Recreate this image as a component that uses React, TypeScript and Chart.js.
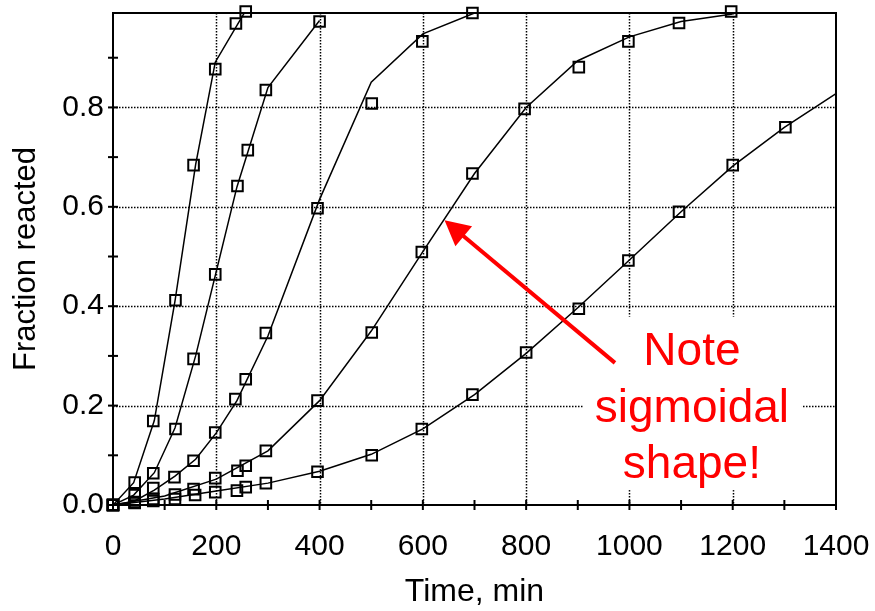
import React, { useEffect, useRef } from 'react';
import { Chart, registerables } from 'chart.js';

Chart.register(...registerables);

// ---------- measured data (markers) ----------
const s1Time = [0, 42, 78, 121, 156, 198, 238, 257];
const s1Frac = [0, 0.045, 0.169, 0.412, 0.684, 0.877, 0.969, 0.993];
const s2Time = [0, 42, 78, 121, 156, 198, 241, 261, 296, 400];
const s2Frac = [0, 0.02, 0.064, 0.153, 0.294, 0.464, 0.642, 0.714, 0.835, 0.973];
const s3Time = [0, 42, 78, 119, 156, 198, 237, 257, 296, 396, 501, 599, 696];
const s3Frac = [0, 0.006, 0.034, 0.056, 0.089, 0.146, 0.213, 0.253, 0.346, 0.597, 0.808, 0.933, 0.99];
const s4Time = [0, 42, 78, 120, 156, 198, 241, 257, 296, 396, 501, 598, 696, 797, 902, 998, 1096, 1197];
const s4Frac = [0, 0.005, 0.012, 0.021, 0.032, 0.054, 0.069, 0.079, 0.109, 0.21, 0.347, 0.509, 0.667, 0.797, 0.881, 0.933, 0.97, 0.993];
const s5Time = [0, 42, 78, 120, 159, 198, 240, 257, 296, 396, 501, 598, 696, 800, 902, 998, 1096, 1200, 1302];
const s5Frac = [0, 0.004, 0.008, 0.012, 0.02, 0.026, 0.029, 0.036, 0.044, 0.067, 0.1, 0.153, 0.222, 0.307, 0.395, 0.492, 0.59, 0.684, 0.76];

// ---------- fitted model curves (lines) ----------
const f1Time = [0, 40, 80, 120, 160, 198, 257];
const f1Frac = [0, 0.045, 0.17, 0.41, 0.685, 0.891, 0.995];
const f2Time = [0, 40, 80, 120, 160, 200, 240, 300, 400];
const f2Frac = [0, 0.02, 0.065, 0.155, 0.3, 0.47, 0.64, 0.84, 0.975];
const f3Time = [0, 40, 80, 120, 160, 200, 240, 300, 400, 500, 600, 700];
const f3Frac = [0, 0.007, 0.03, 0.058, 0.092, 0.145, 0.21, 0.34, 0.615, 0.851, 0.948, 0.99];
const f4Time = [0, 100, 200, 300, 400, 500, 600, 700, 800, 900, 1000, 1100, 1200];
const f4Frac = [0, 0.018, 0.052, 0.109, 0.21, 0.35, 0.51, 0.667, 0.8, 0.894, 0.942, 0.973, 0.988];
const f5Time = [0, 100, 200, 300, 400, 500, 600, 700, 800, 900, 1000, 1100, 1200, 1300, 1400];
const f5Frac = [0, 0.012, 0.028, 0.044, 0.068, 0.102, 0.153, 0.222, 0.305, 0.397, 0.493, 0.59, 0.682, 0.76, 0.828];

// ---------- axes ----------
const xMin = 0;
const xMax = 1400;
const yMin = 0;
const yMax = 0.99;
const xTickStep = 100;
const yTickStep = 0.1;
const xLabelStep = 200;
const xGridValues = [200, 400, 600, 800, 1000, 1200];
const yGridValues = [0.2, 0.4, 0.6, 0.8];
const yLabelValues = [0, 0.2, 0.4, 0.6, 0.8];
const xTitle = 'Time, min';
const yTitle = 'Fraction reacted';

// ---------- annotation ----------
const noteLines = ['Note', 'sigmoidal', 'shape!'];
const noteX = 1121;
const noteBaselines = [0.282, 0.168, 0.054];
const noteBoxX = [910, 1334];
const noteBoxY = [0.03, 0.379];
const arrowTail = [972, 0.286];
const arrowTip = [642, 0.573];

const FONT = '"Liberation Sans", Arial, Helvetica, sans-serif';

const pts = (xs: number[], ys: number[]) => xs.map((x, i) => ({ x, y: ys[i] }));

const markerSets = [
  [s1Time, s1Frac],
  [s2Time, s2Frac],
  [s3Time, s3Frac],
  [s4Time, s4Frac],
  [s5Time, s5Frac],
];
const fitSets = [
  [f1Time, f1Frac],
  [f2Time, f2Frac],
  [f3Time, f3Frac],
  [f4Time, f4Frac],
  [f5Time, f5Frac],
];

const framePlugin = {
  id: 'framePlugin',
  beforeDatasetsDraw(chart: any) {
    const { ctx, chartArea: a, scales } = chart;
    const x = scales.x;
    const y = scales.y;
    ctx.save();
    ctx.strokeStyle = '#000';
    ctx.lineWidth = 1.5;
    ctx.setLineDash([1.5, 1.5]);
    for (const v of xGridValues) {
      const px = Math.round(x.getPixelForValue(v)) + 0.5;
      ctx.beginPath();
      ctx.moveTo(px, a.top);
      ctx.lineTo(px, a.bottom);
      ctx.stroke();
    }
    for (const v of yGridValues) {
      const py = Math.round(y.getPixelForValue(v)) + 0.5;
      ctx.beginPath();
      ctx.moveTo(a.left, py);
      ctx.lineTo(a.right, py);
      ctx.stroke();
    }
    ctx.restore();
  },
  afterDatasetsDraw(chart: any) {
    const { ctx, scales } = chart;
    const x = scales.x;
    const y = scales.y;
    ctx.save();
    const bx0 = x.getPixelForValue(noteBoxX[0]);
    const bx1 = x.getPixelForValue(noteBoxX[1]);
    const by0 = y.getPixelForValue(noteBoxY[1]);
    const by1 = y.getPixelForValue(noteBoxY[0]);
    ctx.fillStyle = '#fff';
    ctx.fillRect(bx0, by0, bx1 - bx0, by1 - by0);
    ctx.fillStyle = '#ff0000';
    ctx.font = `46px ${FONT}`;
    ctx.textAlign = 'center';
    ctx.textBaseline = 'alphabetic';
    noteLines.forEach((t, i) => {
      ctx.fillText(t, x.getPixelForValue(noteX), y.getPixelForValue(noteBaselines[i]));
    });
    const tx = x.getPixelForValue(arrowTail[0]);
    const ty = y.getPixelForValue(arrowTail[1]);
    const hx = x.getPixelForValue(arrowTip[0]);
    const hy = y.getPixelForValue(arrowTip[1]);
    const ang = Math.atan2(hy - ty, hx - tx);
    const headLen = 25;
    const headHalf = 13;
    const bxm = hx - headLen * Math.cos(ang);
    const bym = hy - headLen * Math.sin(ang);
    ctx.strokeStyle = '#ff0000';
    ctx.lineWidth = 4;
    ctx.beginPath();
    ctx.moveTo(tx, ty);
    ctx.lineTo(bxm + 2 * Math.cos(ang), bym + 2 * Math.sin(ang));
    ctx.stroke();
    ctx.beginPath();
    ctx.moveTo(hx, hy);
    ctx.lineTo(bxm + headHalf * Math.sin(ang), bym - headHalf * Math.cos(ang));
    ctx.lineTo(bxm - headHalf * Math.sin(ang), bym + headHalf * Math.cos(ang));
    ctx.closePath();
    ctx.fillStyle = '#ff0000';
    ctx.fill();
    ctx.restore();
  },
  afterDraw(chart: any) {
    const { ctx, chartArea: a, scales } = chart;
    const x = scales.x;
    const y = scales.y;
    ctx.save();
    ctx.strokeStyle = '#000';
    ctx.lineWidth = 2;
    ctx.setLineDash([]);
    ctx.strokeRect(a.left, a.top, a.right - a.left, a.bottom - a.top);
    const tl = 5;
    for (const t of x.ticks) {
      const px = x.getPixelForValue(t.value);
      ctx.beginPath();
      ctx.moveTo(px, a.bottom - tl);
      ctx.lineTo(px, a.bottom + tl);
      ctx.stroke();
    }
    for (const t of y.ticks) {
      const py = y.getPixelForValue(t.value);
      ctx.beginPath();
      ctx.moveTo(a.left - tl, py);
      ctx.lineTo(a.left + tl, py);
      ctx.stroke();
    }
    ctx.restore();
  },
};

export default function App() {
  const ref = useRef<HTMLCanvasElement | null>(null);
  useEffect(() => {
    document.body.style.margin = '0';
    const datasets: any[] = [];
    fitSets.forEach(([t, f]) => {
      datasets.push({
        type: 'line',
        data: pts(t, f),
        borderColor: '#000',
        borderWidth: 1.5,
        pointRadius: 0,
        tension: 0,
        fill: false,
      });
    });
    markerSets.forEach(([t, f]) => {
      datasets.push({
        type: 'scatter',
        data: pts(t, f),
        pointStyle: 'rect',
        pointRadius: 7.5,
        pointBorderWidth: 2,
        borderColor: '#000',
        backgroundColor: 'rgba(0,0,0,0)',
        pointBackgroundColor: 'rgba(0,0,0,0)',
        showLine: false,
        clip: false,
      });
    });
    const chart = new Chart(ref.current as HTMLCanvasElement, {
      type: 'scatter',
      data: { datasets },
      options: {
        animation: false,
        responsive: true,
        maintainAspectRatio: false,
        events: [],
        layout: { padding: { left: 0, right: 39, top: 13, bottom: 0 } },
        plugins: {
          legend: { display: false },
          tooltip: { enabled: false },
        },
        scales: {
          x: {
            type: 'linear',
            min: xMin,
            max: xMax,
            afterFit: (s: any) => {
              s.height = 106;
              s.paddingLeft = 0;
              s.paddingRight = 0;
            },
            grid: { display: true, drawOnChartArea: false, drawTicks: false },
            border: { display: false },
            ticks: {
              stepSize: xTickStep,
              autoSkip: false,
              maxRotation: 0,
              includeBounds: false,
              padding: 24,
              color: '#000',
              font: { family: FONT, size: 30 },
              callback: (v: any) => (Math.round(v) % xLabelStep === 0 ? String(Math.round(v)) : ''),
            },
            title: {
              display: true,
              text: xTitle,
              color: '#000',
              font: { family: FONT, size: 32 },
              padding: { top: 0, bottom: 0 },
            },
          },
          y: {
            type: 'linear',
            min: yMin,
            max: yMax,
            afterFit: (s: any) => {
              s.width = 113;
              s.paddingTop = 0;
              s.paddingBottom = 0;
            },
            grid: { display: true, drawOnChartArea: false, drawTicks: false },
            border: { display: false },
            ticks: {
              stepSize: yTickStep,
              autoSkip: false,
              includeBounds: false,
              padding: 9,
              color: '#000',
              font: { family: FONT, size: 30 },
              callback: (v: any) => {
                const hit = yLabelValues.find((l) => Math.abs(l - v) < 1e-6);
                return hit === undefined ? '' : hit.toFixed(1);
              },
            },
            title: {
              display: true,
              text: yTitle,
              color: '#000',
              font: { family: FONT, size: 31 },
              padding: { top: 8, bottom: 0 },
            },
          },
        },
      },
      plugins: [framePlugin],
    } as any);
    return () => chart.destroy();
  }, []);
  return (
    <div style={{ width: 875, height: 611, position: 'relative' }}>
      <canvas ref={ref} />
    </div>
  );
}
